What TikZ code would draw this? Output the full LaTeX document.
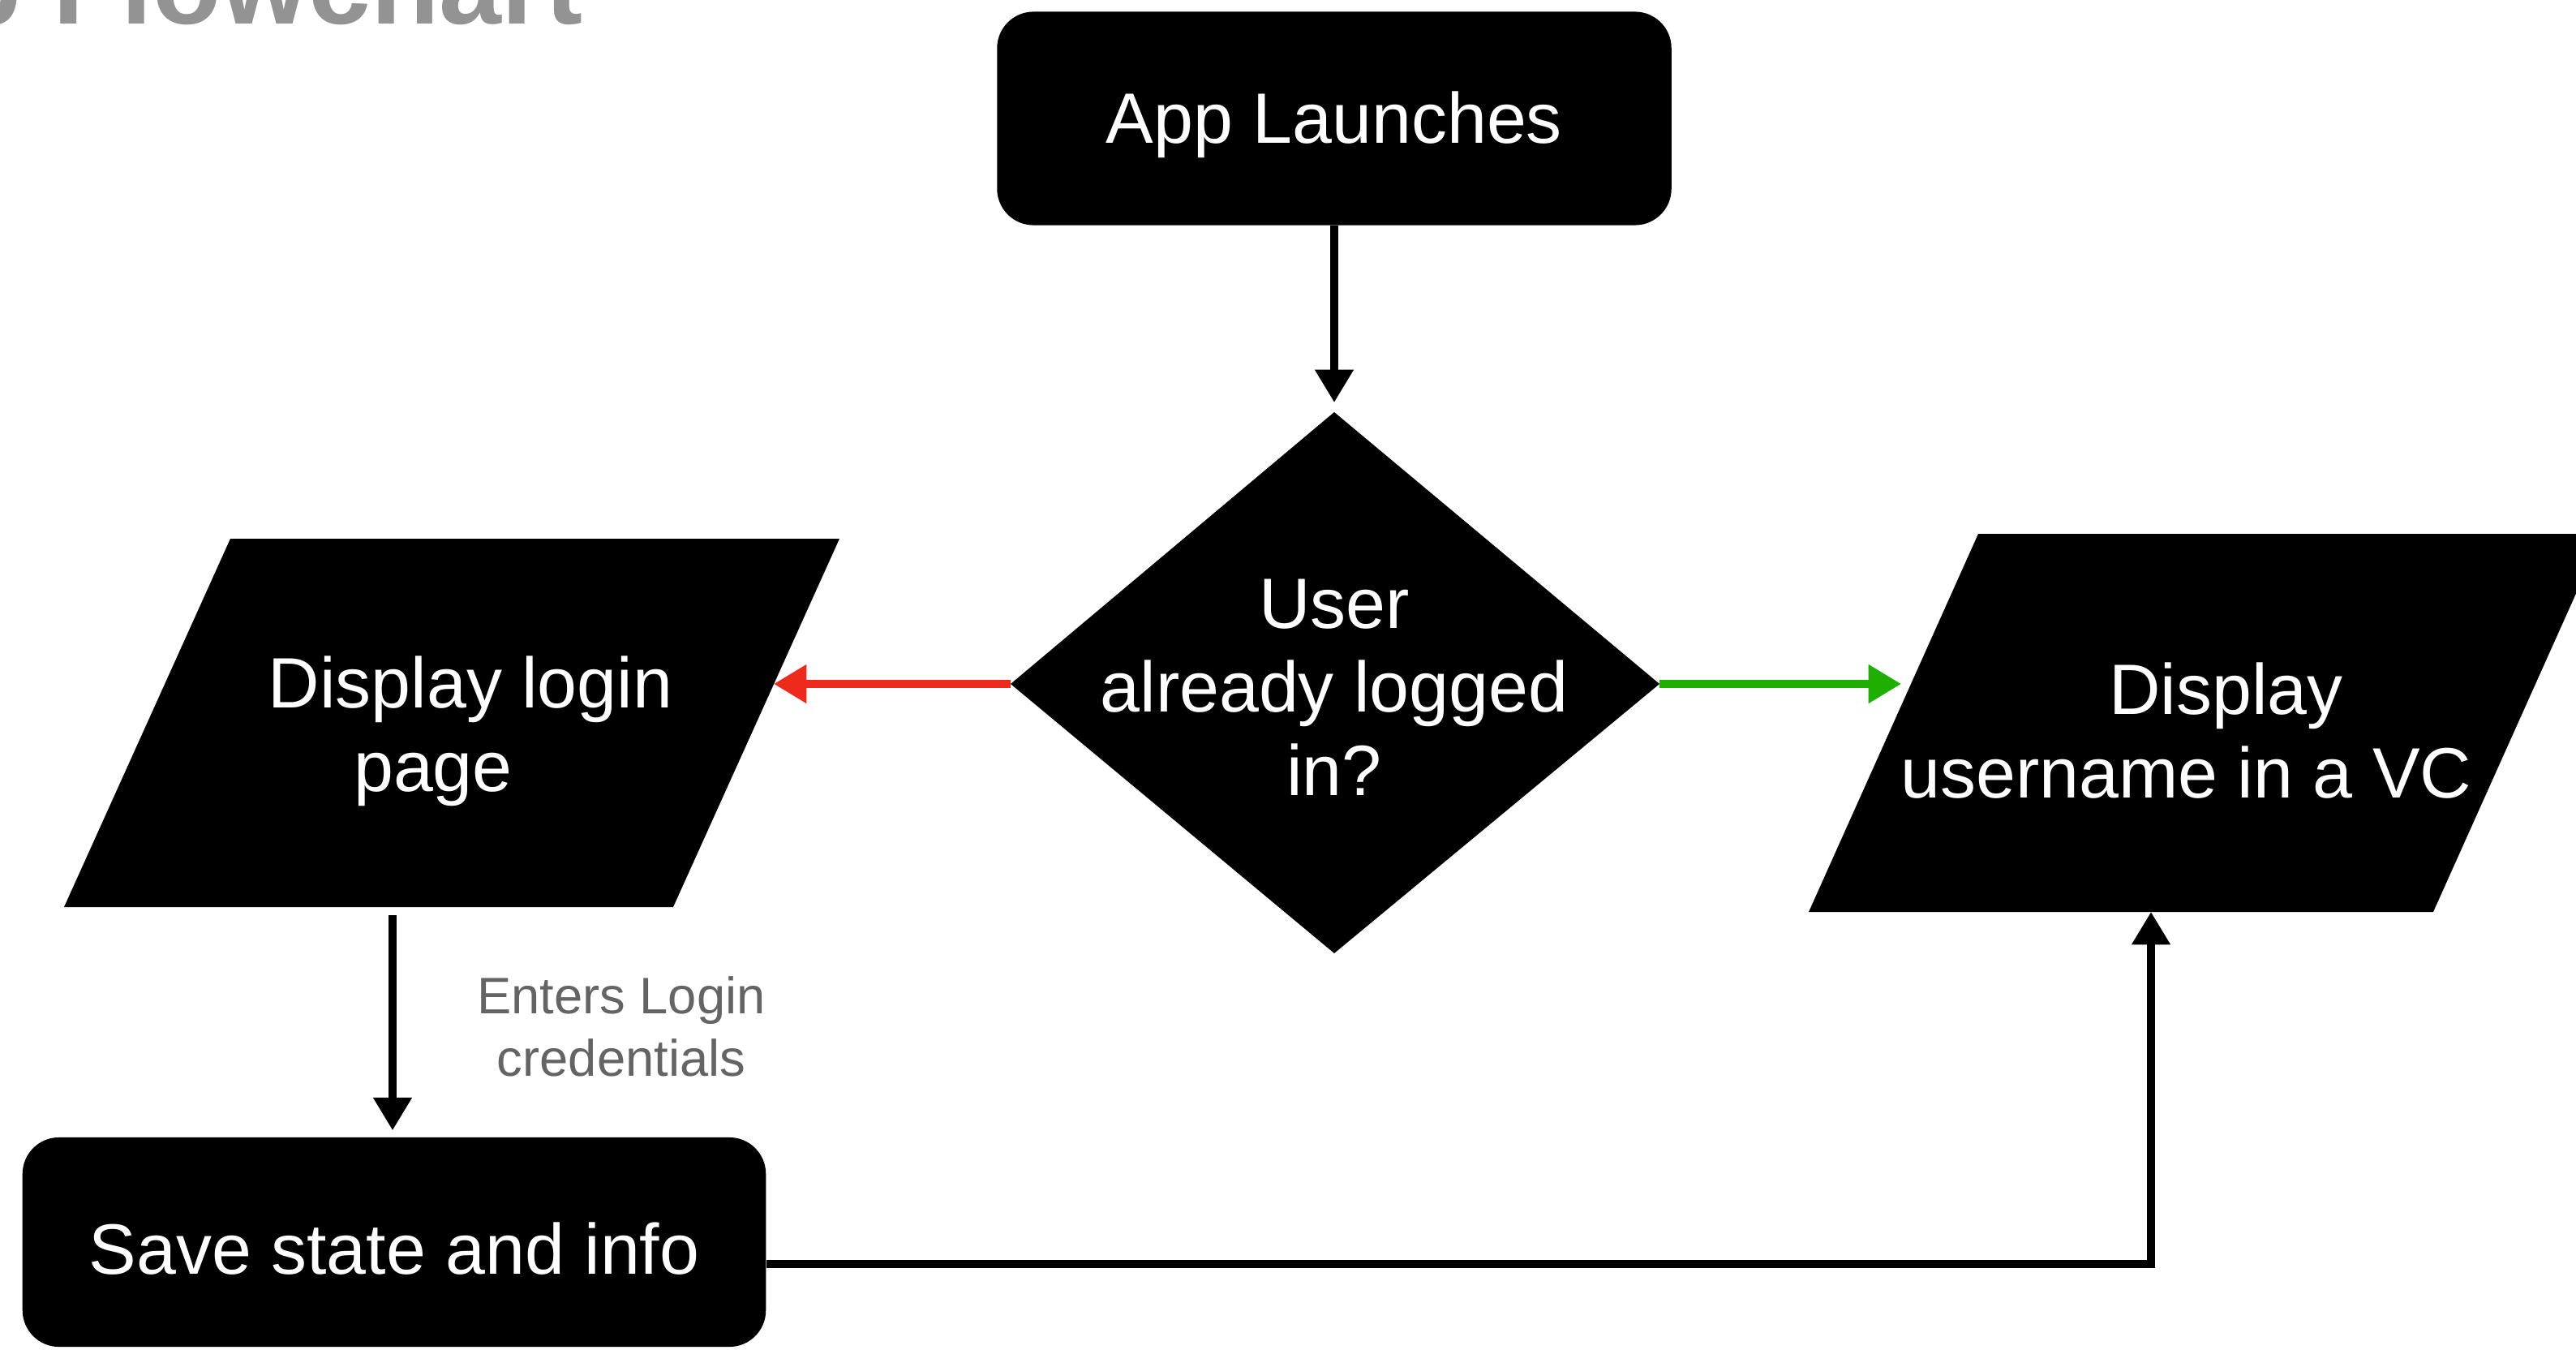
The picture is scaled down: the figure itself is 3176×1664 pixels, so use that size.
\documentclass[tikz,border=0pt]{standalone}
\usepackage{fontspec}
\setmainfont{Liberation Sans}
\usetikzlibrary{arrows.meta}
\definecolor{redarr}{HTML}{EE2A1B}
\definecolor{greenarr}{HTML}{1DB000}
\definecolor{titlegray}{HTML}{939393}
\definecolor{labelgray}{HTML}{646464}
\begin{document}
\begin{tikzpicture}[x=0.01cm, y=-0.01cm,
  conn/.style={line width=2.6pt, -{Triangle[length=11.5pt,width=13pt]}},
  rbox/.style={fill=black, rounded corners=0.45cm, text=white, inner sep=0pt, align=center,
    font=\fontsize{25}{29.3}\selectfont},
  txt/.style={text=white, inner sep=0pt, align=center, font=\fontsize{25}{29.3}\selectfont},
  lbl/.style={text=labelgray, inner sep=0pt, align=center, font=\fontsize{18}{21.9}\selectfont},
  ttl/.style={text=titlegray, inner sep=0pt, font=\fontsize{39.3}{47}\selectfont\bfseries}
]
\useasboundingbox (0,0) rectangle (3176,1664);
\begin{scope}
\clip (0,0) rectangle (3176,1664);
\node[ttl, anchor=base east] (title) at (719,30) {App Flowchart};
% shapes
\fill[black] (284,664) -- (1035,664) -- (830,1118) -- (79,1118) -- cycle;
\fill[black] (2439,658) -- (3209,658) -- (3000,1124) -- (2230,1124) -- cycle;
\fill[black] (1645,508) -- (2046,843) -- (1645,1175) -- (1246,843) -- cycle;
\end{scope}

\node[rbox, minimum width=8.31cm, minimum height=2.63cm] (app) at (1645,146) {\raisebox{-0.08cm}[\height][\depth]{App Launches}};
\node[rbox, minimum width=9.16cm, minimum height=2.58cm] (save) at (486,1531) {\raisebox{-0.08cm}[\height][\depth]{Save state and info}};

\node[txt] (dec) at (1645,847) {User\\already logged\\in?};
\node[txt] (login) at (557,901) {\hspace*{0.46cm}Display login\\page\hspace*{0.46cm}};
\node[txt] (vc) at (2720,901) {\hspace*{0.49cm}Display\\username in a VC\hspace*{0.49cm}};
\node[lbl] (enter) at (766,1265) {Enters Login\\credentials};

\coordinate (dtop) at (1645,508);
\coordinate (dleft) at (1246,843);
\coordinate (dright) at (2046,843);
\coordinate (loginR) at (954,843);
\coordinate (loginB) at (484,1128);
\coordinate (vcL) at (2356,843);
\coordinate (vcB) at (2652,1124);

\draw[conn, shorten >=0.12cm] (app.south) -- (dtop);
\draw[conn, redarr] (dleft) -- (loginR);
\draw[conn, greenarr, shorten >=0.12cm] (dright) -- (vcL);
\draw[conn, shorten >=0.08cm] (loginB) -- (loginB |- save.north);
\draw[conn] ([yshift=-0.27cm]save.east) -| (vcB);
\end{tikzpicture}
\end{document}
